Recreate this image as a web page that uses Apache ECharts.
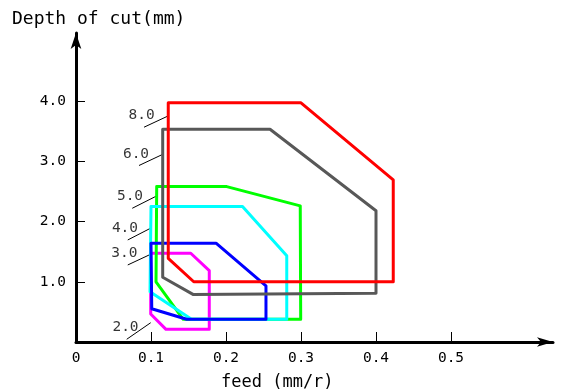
<!DOCTYPE html>
<html><head><meta charset="utf-8">
<script src="https://cdn.jsdelivr.net/npm/echarts@6/dist/echarts.min.js"></script>
<style>html,body{margin:0;padding:0;background:#fff}#c{width:562px;height:389px}</style>
</head><body><div id="c"></div>
<script>
// Tick labels
const xTickValues = [0.1, 0.2, 0.3, 0.4, 0.5];
const xLabelValues = [0, 0.1, 0.2, 0.3, 0.4, 0.5];
const yTickValues = [1, 2, 3, 4];

// Region outlines (feed mm/r, depth mm), one per cutting speed label
const seriesNames = ['2.0', '5.0', '4.0', '3.0', '6.0', '8.0'];
const seriesColors = ['#ff00ff', '#00ff00', '#00ffff', '#0000ff', '#585858', '#ff0000'];
const poly20 = [[0.0996,1.473],[0.153,1.473],[0.1777,1.184],[0.1777,0.21],[0.12,0.21],[0.0996,0.465],[0.0996,1.473]];
const poly50 = [[0.1076,2.58],[0.201,2.58],[0.299,2.26],[0.2996,0.377],[0.143,0.377],[0.1067,1.0],[0.1076,2.58]];
const poly40 = [[0.1,2.25],[0.222,2.25],[0.281,1.43],[0.281,0.377],[0.154,0.377],[0.0987,0.836],[0.1,2.25]];
const poly30 = [[0.1,1.64],[0.1867,1.64],[0.2533,0.93],[0.2533,0.377],[0.1475,0.377],[0.101,0.553],[0.1,1.64]];
const poly60 = [[0.1156,3.533],[0.2587,3.533],[0.40,2.18],[0.40,0.81],[0.156,0.79],[0.1156,1.075],[0.1156,3.533]];
const poly80 = [[0.123,3.97],[0.30,3.97],[0.423,2.69],[0.423,1.0],[0.157,1.0],[0.123,1.39],[0.123,3.97]];
const polygons = [poly20, poly50, poly40, poly30, poly60, poly80];

// Callout labels and their leader lines
const calloutText = ['8.0', '6.0', '5.0', '4.0', '3.0', '2.0'];
const calloutPos = [[0.0876,3.77],[0.08,3.12],[0.072,2.425],[0.0653,1.89],[0.0644,1.473],[0.066,0.24]];
const leaders = [
  [[0.0907,3.566],[0.123,3.754]],
  [[0.084,2.93],[0.1164,3.12]],
  [[0.075,2.22],[0.1076,2.425]],
  [[0.069,1.694],[0.101,1.899]],
  [[0.069,1.279],[0.0996,1.457]],
  [[0.0676,0.045],[0.0996,0.32]]
];

const mono = '"DejaVu Sans Mono", monospace';
const series = [];
polygons.forEach((p, i) => {
  series.push({
    type: 'line', name: seriesNames[i], data: p, showSymbol: false, silent: true,
    lineStyle: { color: seriesColors[i], width: 3, join: 'round', cap: 'round' }, z: 3 + i
  });
});
leaders.forEach((l) => {
  series.push({
    type: 'line', data: l, showSymbol: false, silent: true,
    lineStyle: { color: '#000', width: 1 }, z: 2
  });
});
series.push({
  type: 'scatter', symbolSize: 0, silent: true,
  data: calloutPos.map((p, i) => ({ value: p, name: calloutText[i] })),
  label: { show: true, position: 'inside', formatter: (pr) => pr.name, color: '#000', fontSize: 14.5, fontFamily: mono }
});

const chart = echarts.init(document.getElementById('c'));
chart.setOption({
  animation: false,
  backgroundColor: '#fff',
  title: [
    { text: 'Depth of cut(mm)', left: 7, top: 5, textStyle: { fontSize: 18, fontWeight: 'normal', color: '#000', fontFamily: mono } },
    { text: 'feed (mm/r)', left: 216, top: 369, textStyle: { fontSize: 17, fontWeight: 'normal', color: '#000', fontFamily: mono } }
  ],
  grid: { left: 76, right: 9, top: 33, bottom: 47, containLabel: false },
  xAxis: {
    type: 'value', min: 0, max: 0.636,
    splitLine: { show: false },
    axisLine: { show: true, symbol: ['none', 'arrow'], symbolSize: [7, 16], lineStyle: { color: '#000', width: 3 } },
    axisTick: { show: true, inside: true, length: 10, customValues: xTickValues, lineStyle: { color: '#000', width: 1 } },
    axisLabel: { customValues: xLabelValues, formatter: (v) => v === 0 ? '0' : v.toFixed(1), color: '#000', fontSize: 14.5, fontFamily: mono, margin: 9 }
  },
  yAxis: {
    type: 'value', min: 0, max: 5.13,
    splitLine: { show: false },
    axisLine: { show: true, symbol: ['none', 'arrow'], symbolSize: [8, 16], lineStyle: { color: '#000', width: 3 } },
    axisTick: { show: true, inside: true, length: 9, customValues: yTickValues, lineStyle: { color: '#000', width: 1 } },
    axisLabel: { customValues: yTickValues, formatter: (v) => v.toFixed(1), color: '#000', fontSize: 14.5, fontFamily: mono, margin: 10 }
  },
  series: series
});
</script>
</body></html>
